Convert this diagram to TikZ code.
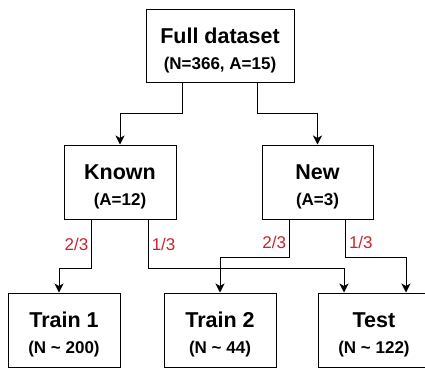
\documentclass[tikz,border=0pt]{standalone}
\usepackage{fontspec}
\setmainfont{Liberation Sans}
\usetikzlibrary{arrows.meta}
\usetikzlibrary{positioning}
\usetikzlibrary{calc}
\definecolor{fracred}{RGB}{204,34,46}
\newcommand{\boxlabel}[2]{\rule{0pt}{25pt}{\fontsize{21.5}{26}\selectfont #1}\\#2}

\begin{document}
\begin{tikzpicture}[x=1pt,y=-1pt,line width=1pt,
  box/.style={draw,rectangle,align=center,inner sep=0pt,minimum width=112pt,minimum height=74pt,
    font=\fontsize{17}{26}\selectfont\bfseries},
  arr/.style={-{Stealth[length=9pt,width=9pt,inset=2.5pt]}},
  frac/.style={text=fracred,font=\fontsize{17}{20}\selectfont,inner sep=3pt}]
  \useasboundingbox (0,0) rectangle (425,367);
  \clip (0,0) rectangle (425,367);
  \node[box,minimum width=148pt,minimum height=73pt] (full) at (220,45.5) {\boxlabel{Full dataset}{(N=366, A=15)}};
  \node[box] (known) at (120,182) {\boxlabel{Known}{(A=12)}};
  \node[box,minimum width=111pt] (new) at (317.5,182) {\boxlabel{New}{(A=3)}};

  \node[box] (train1) at (64,330) {\boxlabel{Train 1}{(N \textasciitilde{} 200)}};
  \node[box] (train2) at (220,330) {\boxlabel{Train 2}{(N \textasciitilde{} 44)}};
  \node[box] (test) at (374,330) {\boxlabel{Test}{(N \textasciitilde{} 122)}};

  \draw[arr]($(full.south)!0.5!(full.south west)$)--++(0,31)-|(known.north);
  \draw[arr]($(full.south)!0.5!(full.south east)$)--++(0,31)-|(new.north);
  \draw[arr]($(known.south)!0.5!(known.south west)$)--++(0,49)node[frac,midway,left]{2/3}-|([xshift=-5pt]train1.north);
  \draw[arr]($(known.south)!0.5!(known.south east)$)--++(0,49)node[frac,midway,right]{1/3}-|([xshift=-30pt]test.north);
  \draw[arr]($(new.south)!0.5!(new.south west)$)--++(0,38)node[frac,pos=0.6,left]{2/3}-|(train2.north);
  \draw[arr]($(new.south)!0.5!(new.south east)$)--++(0,38)node[frac,pos=0.6,right]{1/3}-|([xshift=32pt]test.north);
  \end{tikzpicture}
\end{document}
